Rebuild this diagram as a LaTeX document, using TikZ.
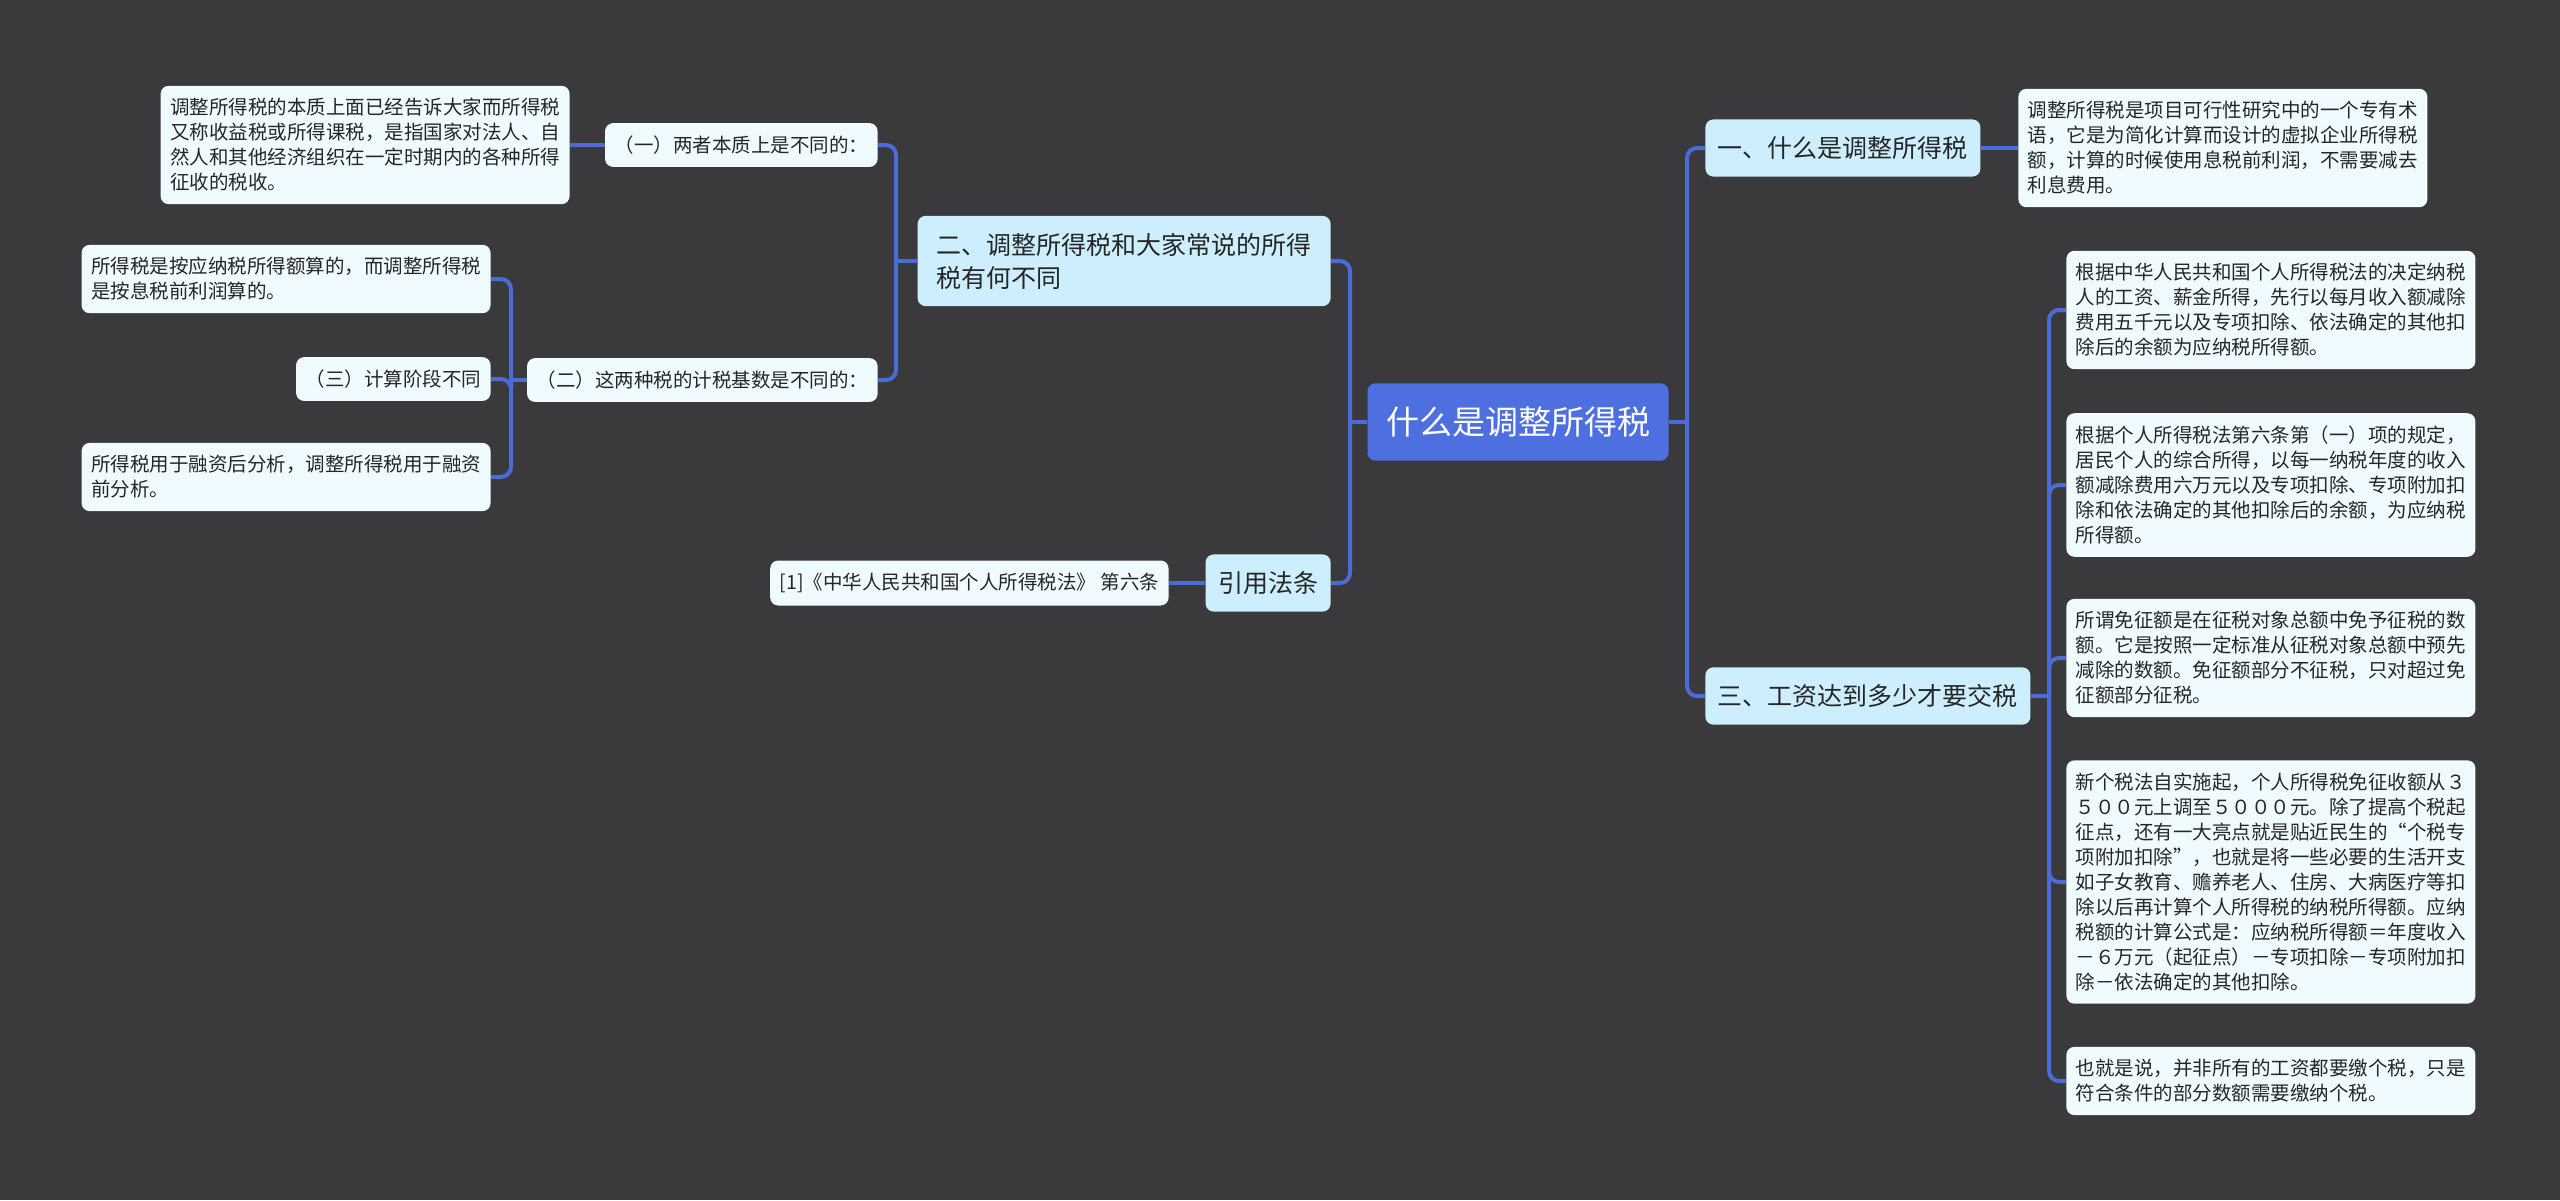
\documentclass[tikz,border=0pt]{standalone}
\usepackage{fontspec}
\setmainfont{Noto Sans CJK SC}
\definecolor{bgdark}{HTML}{3A393B}
\definecolor{rootblue}{HTML}{4D6FE0}
\definecolor{topicfill}{HTML}{CDEFFD}
\definecolor{leaffill}{HTML}{F0FBFF}
\definecolor{linkblue}{HTML}{4C6BD6}
\definecolor{ink}{HTML}{262626}
\begin{document}
\begin{tikzpicture}[x=0.5pt, y=-0.5pt,
  mapbox/.style={rounded corners=4pt, align=left, text=ink},
  rootbox/.style={mapbox, fill=rootblue, text=white, font=\fontsize{16.5}{20}\selectfont, inner xsep=9.25pt, inner ysep=11.75pt},
  topicbox/.style={mapbox, fill=topicfill, font=\fontsize{12.5}{16.5}\selectfont, inner xsep=6.25pt, inner ysep=8.5pt},
  leafbox/.style={mapbox, fill=leaffill, font=\fontsize{9.75}{12.5}\selectfont, inner xsep=4.75pt, inner ysep=6.3pt},
  link/.style={draw=linkblue, line width=2pt, rounded corners=5pt}]
\useasboundingbox (0,0) rectangle (2560,1200);
\fill[bgdark] (0,0) rectangle (2560,1200);

% centre
\node[rootbox] (root) at (1518,422) {什么是调整所得税};

% right side
\node[topicbox, anchor=west] (what) at (1705,148) {一、什么是调整所得税};
\node[leafbox, anchor=west] (whatdef) at (2018,148) {调整所得税是项目可行性研究中的一个专有术\\语，它是为简化计算而设计的虚拟企业所得税\\额，计算的时候使用息税前利润，不需要减去\\利息费用。};
\node[topicbox, anchor=west] (wage) at (1705,696) {三、工资达到多少才要交税};
\node[leafbox, anchor=west] (wageA) at (2066,310) {根据中华人民共和国个人所得税法的决定纳税\\人的工资、薪金所得，先行以每月收入额减除\\费用五千元以及专项扣除、依法确定的其他扣\\除后的余额为应纳税所得额。};
\node[leafbox, anchor=west] (wageB) at (2066,485) {根据个人所得税法第六条第（一）项的规定，\\居民个人的综合所得，以每一纳税年度的收入\\额减除费用六万元以及专项扣除、专项附加扣\\除和依法确定的其他扣除后的余额，为应纳税\\所得额。};
\node[leafbox, anchor=west] (wageC) at (2066,658) {所谓免征额是在征税对象总额中免予征税的数\\额。它是按照一定标准从征税对象总额中预先\\减除的数额。免征额部分不征税，只对超过免\\征额部分征税。};
\node[leafbox, anchor=west] (wageD) at (2066,882) {新个税法自实施起，个人所得税免征收额从３\\５００元上调至５０００元。除了提高个税起\\征点，还有一大亮点就是贴近民生的“个税专\\项附加扣除”，也就是将一些必要的生活开支\\如子女教育、赡养老人、住房、大病医疗等扣\\除以后再计算个人所得税的纳税所得额。应纳\\税额的计算公式是：应纳税所得额＝年度收入\\－６万元（起征点）－专项扣除－专项附加扣\\除－依法确定的其他扣除。};
\node[leafbox, anchor=west] (wageE) at (2066,1081) {也就是说，并非所有的工资都要缴个税，只是\\符合条件的部分数额需要缴纳个税。};

% left side
\node[topicbox, anchor=east, inner xsep=9.5pt] (diff) at (1331,261) {二、调整所得税和大家常说的所得\\税有何不同};
\node[topicbox, anchor=east] (cite) at (1331,583) {引用法条};
\node[leafbox, anchor=east] (citelaw) at (1169,583) {[1]《中华人民共和国个人所得税法》 第六条};
\node[leafbox, anchor=east] (diffA) at (878,145) {（一）两者本质上是不同的：};
\node[leafbox, anchor=east] (diffAtxt) at (570,145) {调整所得税的本质上面已经告诉大家而所得税\\又称收益税或所得课税，是指国家对法人、自\\然人和其他经济组织在一定时期内的各种所得\\征收的税收。};
\node[leafbox, anchor=east] (diffB) at (878,380) {（二）这两种税的计税基数是不同的：};
\node[leafbox, anchor=east] (baseA) at (491,279) {所得税是按应纳税所得额算的，而调整所得税\\是按息税前利润算的。};
\node[leafbox, anchor=east] (stage) at (491,379) {（三）计算阶段不同};
\node[leafbox, anchor=east] (baseB) at (491,477) {所得税用于融资后分析，调整所得税用于融资\\前分析。};

% junctions
\coordinate (rootR) at (1687,422);
\coordinate (rootL) at (1350,422);
\coordinate (wageJ) at (2049,696);
\coordinate (diffJ) at (896,261);
\coordinate (diffBJ) at (511,380);

% connectors
\draw[link] (root.east) -- (rootR);
\draw[link] (rootR) |- (what.west);
\draw[link] (rootR) |- (wage.west);
\draw[link] (what.east) -- (whatdef.west);
\draw[link] (wage.east) -- (wageJ);
\foreach \leaf in {wageA,wageB,wageC,wageD,wageE}
  \draw[link] (wageJ) |- (\leaf.west);
\draw[link] (root.west) -- (rootL);
\draw[link] (rootL) |- (diff.east);
\draw[link] (rootL) |- (cite.east);
\draw[link] (cite.west) -- (citelaw.east);
\draw[link] (diff.west) -- (diffJ);
\draw[link] (diffJ) |- (diffA.east);
\draw[link] (diffJ) |- (diffB.east);
\draw[link] (diffA.west) -- (diffAtxt.east);
\draw[link] (diffB.west) -- (diffBJ);
\foreach \leaf in {baseA,stage,baseB}
  \draw[link] (diffBJ) |- (\leaf.east);
\end{tikzpicture}
\end{document}
